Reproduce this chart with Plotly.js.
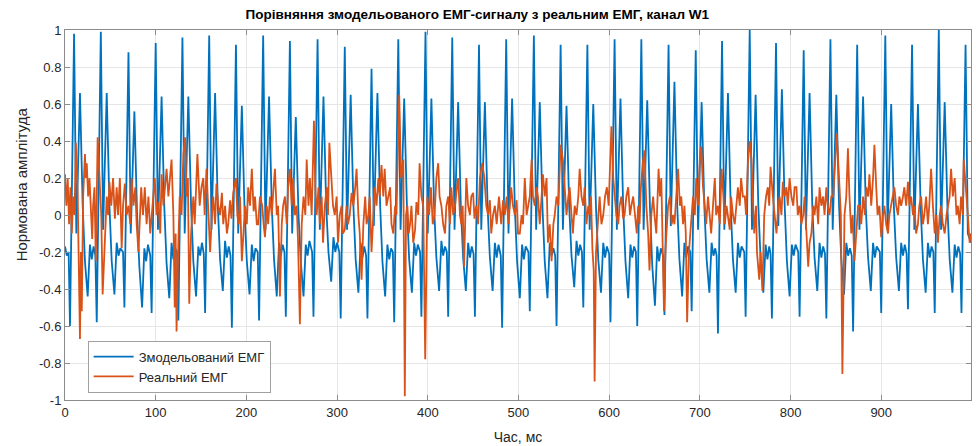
<!DOCTYPE html>
<html>
<head>
<meta charset="utf-8">
<script src="https://cdn.plot.ly/plotly-3.0.1.min.js"></script>
<style>html,body{margin:0;padding:0;background:#fff;}#chart{width:976px;height:446px;}</style>
</head>
<body>
<div id="chart"></div>
<script>
// ---- data ----
const seriesNames = ["Змодельований ЕМГ", "Реальний ЕМГ"];
const chartTitle = "Порівняння змодельованого ЕМГ-сигналу з реальним ЕМГ, канал W1";
const xLabel = "Час, мс";
const yLabel = "Нормована амплітуда";

const xTickVals = [0, 100, 200, 300, 400, 500, 600, 700, 800, 900];
const xTickText = ["0", "100", "200", "300", "400", "500", "600", "700", "800", "900"];
const yTickVals = [-1, -0.8, -0.6, -0.4, -0.2, 0, 0.2, 0.4, 0.6, 0.8, 1];
const yTickText = ["-1", "-0.8", "-0.6", "-0.4", "-0.2", "0", "0.2", "0.4", "0.6", "0.8", "1"];

// simulated EMG (blue): time in ms, normalised amplitude
const timeSim = [0, 2,
4, 5.5, 10, 12.5, 16.5, 19.5, 22, 25, 27.5, 29.5, 31.5,
33.5, 35, 39.5, 42, 46, 49, 51.5, 54.5, 57, 59, 61,
64, 65.5, 70, 72.5, 76.5, 79.5, 82, 85, 87.5, 89.5, 91.5,
94, 95.5, 100, 102.5, 106.5, 109.5, 112, 115, 117.5, 119.5, 121.5,
123.5, 125, 129.5, 132, 136, 139, 141.5, 144.5, 147, 149, 151,
153, 154.5, 159, 161.5, 165.5, 168.5, 171, 174, 176.5, 178.5, 180.5,
182.5, 184, 188.5, 191, 195, 198, 200.5, 203.5, 206, 208, 210,
212.5, 214, 218.5, 221, 225, 228, 230.5, 233.5, 236, 238, 240,
242, 243.5, 248, 250.5, 254.5, 257.5, 260, 263, 265.5, 267.5, 269.5,
272.5, 274, 278.5, 281, 285, 288, 290.5, 293.5, 296, 298, 300,
302.5, 304, 308.5, 311, 315, 318, 320.5, 323.5, 326, 328, 330,
332, 333.5, 338, 340.5, 344.5, 347.5, 350, 353, 355.5, 357.5, 359.5,
361.5, 363, 367.5, 370, 374, 377, 379.5, 382.5, 385, 387, 389,
391.5, 393, 397.5, 400, 404, 407, 409.5, 412.5, 415, 417, 419,
421, 422.5, 427, 429.5, 433.5, 436.5, 439, 442, 444.5, 446.5, 448.5,
450.5, 452, 456.5, 459, 463, 466, 468.5, 471.5, 474, 476, 478,
480.5, 482, 486.5, 489, 493, 496, 498.5, 501.5, 504, 506, 508,
511, 512.5, 517, 519.5, 523.5, 526.5, 529, 532, 534.5, 536.5, 538.5,
540.5, 542, 546.5, 549, 553, 556, 558.5, 561.5, 564, 566, 568,
570, 571.5, 576, 578.5, 582.5, 585.5, 588, 591, 593.5, 595.5, 597.5,
600, 601.5, 606, 608.5, 612.5, 615.5, 618, 621, 623.5, 625.5, 627.5,
629.5, 631, 635.5, 638, 642, 645, 647.5, 650.5, 653, 655, 657,
659.5, 661, 665.5, 668, 672, 675, 677.5, 680.5, 683, 685, 687,
689.5, 691, 695.5, 698, 702, 705, 707.5, 710.5, 713, 715, 717,
718.5, 720, 724.5, 727, 731, 734, 736.5, 739.5, 742, 744, 746,
749, 750.5, 755, 757.5, 761.5, 764.5, 767, 770, 772.5, 774.5, 776.5,
778, 779.5, 784, 786.5, 790.5, 793.5, 796, 799, 801.5, 803.5, 805.5,
808.5, 810, 814.5, 817, 821, 824, 826.5, 829.5, 832, 834, 836,
838, 839.5, 844, 846.5, 850.5, 853.5, 856, 859, 861.5, 863.5, 865.5,
867.5, 869, 873.5, 876, 880, 883, 885.5, 888.5, 891, 893, 895,
898.5, 900, 904.5, 907, 911, 914, 916.5, 919.5, 922, 924, 926,
928, 929.5, 934, 936.5, 940.5, 943.5, 946, 949, 951.5, 953.5, 955.5,
957.5, 959, 963.5, 966, 970, 973, 975.5, 978.5, 981, 983, 985,
987, 988.5, 993, 995.5, 999];
const ampSim = [-0.17, -0.22,
-0.2, -0.6, 0.98, -0.1, 0.66, 0.05, -0.25, -0.44, -0.16, -0.24, -0.17,
-0.22, -0.58, 0.99, -0.08, 0.66, 0.05, -0.25, -0.43, -0.15, -0.22, -0.18,
-0.2, -0.5, 0.88, -0.1, 0.56, 0.0, -0.28, -0.5, -0.18, -0.25, -0.16,
-0.22, -0.53, 0.93, -0.08, 0.64, 0.04, -0.26, -0.45, -0.15, -0.24, -0.18,
-0.2, -0.57, 0.96, -0.1, 0.64, 0.05, -0.25, -0.44, -0.17, -0.22, -0.15,
-0.21, -0.53, 0.97, -0.08, 0.66, 0.05, -0.24, -0.41, -0.14, -0.23, -0.17,
-0.22, -0.61, 0.92, -0.1, 0.59, 0.02, -0.25, -0.43, -0.16, -0.25, -0.18,
-0.2, -0.57, 0.97, -0.08, 0.64, 0.05, -0.24, -0.44, -0.15, -0.22, -0.16,
-0.2, -0.55, 0.94, -0.1, 0.53, 0.0, -0.25, -0.44, -0.16, -0.22, -0.14,
-0.2, -0.55, 0.95, -0.08, 0.64, 0.05, -0.2, -0.36, -0.12, -0.2, -0.15,
-0.2, -0.56, 0.91, -0.08, 0.65, 0.05, -0.24, -0.42, -0.15, -0.23, -0.17,
-0.22, -0.56, 0.79, -0.06, 0.66, 0.05, -0.25, -0.44, -0.16, -0.24, -0.18,
-0.2, -0.58, 0.95, -0.08, 0.63, 0.05, -0.24, -0.42, -0.15, -0.22, -0.16,
-0.2, -0.55, 0.99, -0.1, 0.63, 0.04, -0.23, -0.41, -0.14, -0.22, -0.17,
-0.2, -0.55, 0.96, -0.08, 0.61, 0.04, -0.23, -0.41, -0.15, -0.23, -0.17,
-0.21, -0.55, 0.92, -0.08, 0.61, 0.04, -0.23, -0.41, -0.15, -0.23, -0.16,
-0.22, -0.61, 0.95, -0.1, 0.63, 0.04, -0.25, -0.45, -0.16, -0.24, -0.17,
-0.2, -0.52, 0.97, -0.08, 0.61, 0.04, -0.25, -0.45, -0.15, -0.22, -0.18,
-0.22, -0.6, 0.92, -0.08, 0.59, 0.04, -0.22, -0.39, -0.14, -0.22, -0.16,
-0.2, -0.5, 0.92, -0.08, 0.6, 0.04, -0.24, -0.42, -0.15, -0.23, -0.17,
-0.21, -0.58, 0.95, -0.08, 0.63, 0.04, -0.25, -0.45, -0.16, -0.23, -0.17,
-0.2, -0.6, 0.95, -0.08, 0.62, 0.04, -0.27, -0.49, -0.17, -0.25, -0.18,
-0.22, -0.54, 0.92, -0.06, 0.72, 0.06, -0.24, -0.44, -0.15, -0.23, -0.17,
-0.2, -0.52, 0.89, -0.08, 0.61, 0.04, -0.24, -0.42, -0.15, -0.22, -0.18,
-0.22, -0.64, 0.94, -0.08, 0.66, 0.05, -0.24, -0.42, -0.15, -0.23, -0.17,
-0.2, -0.55, 1.0, -0.08, 0.65, 0.05, -0.24, -0.42, -0.16, -0.24, -0.17,
-0.21, -0.56, 0.93, -0.06, 0.68, 0.06, -0.25, -0.44, -0.16, -0.22, -0.16,
-0.2, -0.55, 0.89, -0.08, 0.66, 0.05, -0.23, -0.41, -0.15, -0.23, -0.17,
-0.21, -0.56, 0.95, -0.08, 0.65, 0.05, -0.24, -0.43, -0.15, -0.22, -0.18,
-0.22, -0.63, 0.92, -0.08, 0.64, 0.04, -0.23, -0.41, -0.15, -0.23, -0.17,
-0.2, -0.53, 0.97, -0.08, 0.6, 0.04, -0.23, -0.41, -0.15, -0.22, -0.16,
-0.21, -0.51, 0.92, -0.08, 0.6, 0.04, -0.24, -0.42, -0.15, -0.23, -0.17,
-0.2, -0.53, 1.0, -0.08, 0.61, 0.04, -0.24, -0.42, -0.16, -0.23, -0.17,
-0.21, -0.53, 0.92, -0.1, -0.15];

// real EMG (orange): time in ms, normalised amplitude
const timeReal = [0, 1.5, 3, 4.5, 6, 7.5, 9, 10.5, 12, 14, 16.5, 17.5, 18.5, 20, 22, 23, 24, 25.5, 27, 28.5,
30, 31, 32.5, 34, 36, 38.5, 40, 41.5, 44, 46, 47.5, 49, 51, 53, 55, 57, 58.5, 60.5, 62.5, 64,
66, 68, 70, 72, 73.5, 75.5, 77.5, 79, 81, 82.5, 84, 86, 88, 90, 92, 94, 95.5, 97.5, 99, 101,
103, 105, 106.5, 108.5, 110, 112, 114, 116, 117.5, 119.5, 121, 122, 123, 125, 126.5, 128.5, 130.5, 132.5, 134, 135.5,
137, 139, 141.5, 143, 144.5, 146, 148.5, 150.5, 152.5, 154, 156, 158, 160, 162, 163.5, 165.5, 167, 169, 171, 173,
174.5, 176.5, 178.5, 180, 182, 183.5, 185.5, 188.5, 190, 191.5, 193, 195, 197, 198.5, 200.5, 202, 204, 206, 208, 209.5,
211.5, 213, 215, 217.5, 219, 220.5, 222.5, 224, 226, 228, 230, 231.5, 233.5, 235, 237, 239, 240.5, 242.5, 244.5, 246,
248, 250, 251.5, 253.5, 255.5, 257, 259, 261, 263, 265, 266.5, 268.5, 270, 272, 274.5, 276, 277.5, 279.5, 281, 283,
284.5, 286.5, 288.5, 290, 291.5, 293.5, 295.5, 297.5, 299.5, 301, 303, 305, 306.5, 308.5, 310.5, 312, 314, 316, 318, 320,
321.5, 323.5, 325, 327, 329, 331, 332.5, 334.5, 336, 338, 340, 341.5, 343.5, 345.5, 347, 349, 351, 352.5, 354.5, 356.5,
358.5, 360, 362, 364, 365.5, 368.5, 370.5, 373, 374.7, 376, 377.5, 379, 380.5, 382, 384, 386, 387.5, 389.5, 391, 393,
395, 397.2, 399.5, 401.5, 403.5, 405.5, 407.5, 409.5, 411.5, 413, 415, 417, 419, 420.5, 422.5, 424.5, 426, 428, 430, 431.5,
433.5, 435.5, 437, 438.5, 440, 442.5, 444.5, 446.5, 448, 450, 451.5, 453.5, 455.5, 457.5, 460, 462.5, 464.5, 466.5, 468.5, 470,
472, 474, 476, 478.5, 480, 481, 483, 485, 487, 489, 490.5, 492, 494, 496, 498, 499.5, 501.5, 503.5, 505, 507,
509, 510.5, 512.5, 514.5, 516, 518, 520, 521.5, 523.5, 525.5, 527, 529, 531, 532.5, 534.5, 536.5, 538.5, 540, 542, 544,
546.5, 549, 551, 553, 555, 556.5, 558.5, 560, 562, 564, 566, 567.5, 569.5, 571.5, 573, 575, 577, 578.5, 580, 581.5,
583, 584, 585.5, 587, 589.5, 591.5, 593.5, 595.5, 597.5, 599.5, 601, 602.5, 604.5, 606, 608, 610, 611.5, 613.5, 615.5, 617,
619, 621, 623, 624.5, 626.5, 628.5, 630.5, 632, 633.5, 635, 637, 639, 641, 643, 644.5, 646.5, 648.5, 650, 652, 654.5,
656, 657.5, 659, 660.5, 662, 663.5, 665, 667, 669, 670.5, 672, 674, 676, 678, 679.5, 681.5, 683, 684.5, 686, 688,
689.5, 691, 692.5, 694.5, 696, 698, 700, 701.5, 703.5, 705.5, 707, 709, 710.5, 712.5, 714.5, 716.5, 718, 720, 722, 724,
726, 727.5, 729.5, 731, 733, 734.5, 736.5, 738.5, 740, 742, 744, 745.5, 747.5, 749.5, 751, 753, 755, 757, 758, 760,
762, 763, 765.5, 767, 769, 771, 773, 775, 776.5, 778, 780.5, 782.5, 784.5, 786.5, 788, 790, 791.5, 793.5, 795.5, 797,
799, 801, 803, 804.5, 806.5, 808, 810, 812, 814, 815.5, 817.5, 819.5, 821, 823, 825, 826.5, 828.5, 830.5, 832, 834,
836, 837.5, 839.5, 841, 843, 845, 847, 849, 851, 853.5, 855.5, 857.2, 859.5, 861.5, 863.3, 865, 867, 868.5, 870.5, 872.5,
874.5, 876.5, 878, 880, 882, 883.5, 885.5, 887, 889, 891, 892.5, 894.5, 896, 898, 900, 902, 903.5, 905.5, 907.5, 909,
911, 913, 914.5, 916.5, 918.5, 920, 922, 924, 925.5, 927.5, 929.5, 931, 933, 935, 936.5, 938.5, 940.5, 942, 944, 946,
947.5, 949.5, 951.5, 953, 955, 957, 959, 961, 962.5, 964.5, 966, 968, 970, 972, 973.5, 975.5, 977, 979, 981, 983,
984.5, 986.5, 988, 990, 991, 993.5, 995.5, 997.5, 999];
const ampReal = [0.22, 0.05, 0.2, -0.05, 0.15, -0.1, 0.1, 0.0, 0.39, 0.1, -0.67, -0.2, -0.52, 0.1, 0.33, 0.2, 0.28, 0.1, 0.2, 0.0,
-0.13, 0.05, 0.15, -0.25, 0.42, 0.15, 0.0, -0.43, -0.1, 0.1, 0.0, 0.18, 0.05, 0.2, -0.02, 0.15, 0.0, 0.2, -0.18, 0.05,
0.17, 0.0, 0.05, -0.05, 0.2, 0.05, 0.15, -0.05, -0.2, -0.05, 0.15, 0.0, 0.15, -0.05, 0.1, -0.1, 0.0, 0.12, 0.2, 0.0,
0.07, -0.1, 0.22, 0.05, 0.15, 0.25, 0.1, 0.2, 0.3, 0.0, -0.5, -0.1, -0.63, -0.15, 0.1, 0.0, 0.33, 0.42, 0.1, 0.2,
-0.48, -0.1, 0.1, -0.05, 0.1, 0.33, 0.05, 0.15, 0.2, 0.0, 0.25, 0.05, -0.2, 0.0, 0.1, -0.05, 0.17, 0.05, 0.0, 0.12,
-0.05, 0.05, -0.1, -0.05, 0.08, -0.02, 0.12, 0.2, 0.0, -0.05, 0.1, -0.25, -0.05, 0.05, -0.05, 0.15, 0.05, 0.25, 0.02, 0.1,
-0.05, -0.05, 0.1, 0.05, -0.05, -0.12, 0.05, -0.05, 0.1, 0.0, 0.15, 0.25, 0.0, 0.05, -0.44, -0.05, 0.05, 0.1, -0.05, 0.15,
0.25, 0.05, 0.2, 0.0, 0.05, -0.15, -0.59, -0.05, 0.1, 0.0, 0.3, 0.05, 0.2, 0.0, 0.51, 0.15, 0.0, 0.15, -0.05, 0.1,
-0.15, 0.05, 0.15, 0.0, 0.39, 0.22, 0.05, 0.0, 0.1, -0.15, 0.0, 0.05, -0.1, -0.08, 0.05, -0.05, 0.0, 0.12, 0.05, 0.15,
0.25, 0.0, -0.1, -0.35, -0.05, 0.1, -0.05, 0.0, 0.1, -0.2, 0.0, 0.15, 0.05, 0.2, 0.1, 0.27, 0.1, 0.25, 0.05, 0.1,
0.15, -0.05, -0.1, 0.05, 0.0, 0.65, 0.2, 0.3, -0.98, 0.0, 0.05, -0.1, -0.05, 0.05, -0.15, -0.08, 0.07, 0.0, 0.28, 0.1,
0.05, -0.78, 0.1, 0.0, 0.15, -0.05, 0.0, 0.2, 0.28, 0.1, 0.05, -0.05, -0.1, 0.05, 0.1, -0.05, 0.15, 0.0, 0.05, 0.12,
0.2, 0.0, -0.05, 0.05, -0.28, 0.2, 0.05, 0.0, 0.1, 0.12, -0.02, 0.05, -0.05, 0.2, 0.28, 0.2, 0.05, 0.0, 0.08, -0.1,
0.0, 0.05, -0.05, 0.1, 0.0, -0.05, 0.08, 0.0, 0.1, -0.05, 0.05, 0.15, 0.05, 0.0, 0.08, -0.1, -0.1, 0.0, -0.05, 0.2,
0.0, 0.05, 0.1, 0.3, 0.1, 0.05, 0.15, 0.1, -0.05, 0.1, 0.22, 0.1, 0.2, -0.15, -0.05, -0.25, -0.05, 0.0, 0.1, 0.05,
0.38, 0.3, 0.15, 0.0, 0.1, 0.15, 0.0, -0.1, 0.05, 0.0, 0.1, 0.25, 0.1, 0.05, 0.15, -0.05, 0.05, 0.0, 0.1, -0.18,
-0.3, -0.9, -0.2, -0.1, 0.1, -0.05, 0.0, 0.1, 0.15, 0.05, 0.25, 0.48, 0.2, 0.1, 0.0, -0.05, 0.05, 0.1, -0.02, 0.0,
0.1, 0.15, 0.0, 0.05, 0.1, 0.0, -0.1, 0.05, -0.05, 0.15, 0.28, 0.35, 0.05, -0.1, -0.3, 0.0, 0.1, 0.0, -0.1, 0.25,
0.1, 0.2, -0.1, -0.52, -0.2, -0.1, 0.05, 0.1, -0.05, 0.0, -0.05, 0.1, 0.25, 0.05, 0.1, -0.05, 0.05, -0.1, -0.58, -0.2,
-0.1, 0.05, 0.1, 0.0, 0.2, 0.05, 0.3, 0.37, 0.15, 0.05, -0.05, 0.1, 0.0, -0.1, 0.05, 0.2, 0.0, 0.05, -0.05, 0.25,
0.1, -0.05, 0.05, 0.0, -0.08, 0.1, 0.0, -0.05, 0.05, 0.15, 0.05, 0.2, 0.1, 0.1, 0.0, 0.28, 0.4, 0.3, 0.15, -0.1,
0.05, -0.2, -0.35, -0.2, -0.41, 0.0, 0.1, 0.15, 0.05, 0.26, 0.1, 0.0, -0.1, 0.05, 0.1, 0.0, 0.18, 0.1, 0.15, 0.05,
0.2, 0.1, 0.05, 0.15, 0.15, 0.0, 0.05, -0.05, 0.0, 0.1, -0.1, -0.28, -0.15, -0.1, 0.05, 0.0, 0.1, -0.05, 0.15, 0.05,
0.1, 0.0, 0.15, 0.05, 0.0, 0.1, 0.1, 0.25, 0.44, 0.2, 0.0, -0.86, 0.0, 0.1, 0.36, 0.1, -0.1, 0.0, -0.25, -0.1,
0.05, 0.05, -0.05, 0.1, 0.0, 0.15, 0.1, 0.22, 0.05, 0.2, 0.38, 0.15, 0.0, 0.05, -0.12, 0.0, 0.05, -0.05, -0.1, 0.0,
0.05, 0.1, 0.15, 0.05, 0.0, 0.1, 0.05, 0.1, 0.15, 0.05, 0.18, 0.05, 0.1, 0.0, 0.05, -0.1, -0.05, 0.05, 0.1, -0.05,
0.0, 0.1, -0.05, 0.05, 0.25, 0.05, -0.1, 0.0, -0.15, 0.0, 0.05, -0.05, -0.1, 0.0, 0.05, 0.1, 0.25, 0.1, 0.2, 0.0,
0.05, -0.05, 0.1, 0.0, 0.3, 0.1, 0.0, -0.15, -0.1];

// ---- chart ----
const fontFam = "'Liberation Sans', Arial, Helvetica, sans-serif";
const axisCol = "#8c8c8c";
const textCol = "#262626";

const traces = [
  {x: timeSim, y: ampSim, type: "scatter", mode: "lines", name: seriesNames[0],
   line: {color: "#0072BD", width: 1.8}},
  {x: timeReal, y: ampReal, type: "scatter", mode: "lines", name: seriesNames[1],
   line: {color: "#D95319", width: 1.8}}
];

const axisCommon = {
  showline: true, linecolor: axisCol, linewidth: 1, mirror: "ticks",
  ticks: "inside", ticklen: 5, tickcolor: axisCol, tickwidth: 1,
  showgrid: true, gridcolor: "#e6e6e6", gridwidth: 1, zeroline: false,
  tickfont: {family: fontFam, size: 13, color: textCol},
  tickmode: "array"
};

const layout = {
  width: 976, height: 446,
  margin: {l: 65, r: 5, t: 30, b: 46, pad: 0},
  paper_bgcolor: "#ffffff", plot_bgcolor: "#ffffff",
  font: {family: fontFam, color: textCol},
  title: {text: "<b>" + chartTitle + "</b>", font: {family: fontFam, size: 13.5, color: "#000"},
          xref: "container", x: 0.489, xanchor: "center", yref: "container", y: 0.968, yanchor: "middle"},
  xaxis: Object.assign({}, axisCommon, {
    range: [0, 999], tickvals: xTickVals, ticktext: xTickText,
    title: {text: xLabel, font: {family: fontFam, size: 14, color: textCol}, standoff: 13}
  }),
  yaxis: Object.assign({}, axisCommon, {
    range: [-1, 1], tickvals: yTickVals, ticktext: yTickText
  }),
  annotations: [{
    text: yLabel, textangle: -90, showarrow: false,
    xref: "paper", yref: "paper", x: -0.047, y: 0.584,
    xanchor: "center", yanchor: "middle",
    font: {family: fontFam, size: 15, color: textCol}
  }],
  showlegend: true,
  legend: {x: 0.025, y: 0.02, xanchor: "left", yanchor: "bottom",
           bgcolor: "#ffffff", bordercolor: "#a0a0a0", borderwidth: 1,
           font: {family: fontFam, size: 13, color: textCol}, itemwidth: 40,
           tracegroupgap: 0}
};

Plotly.newPlot("chart", traces, layout, {displayModeBar: false, responsive: false});
</script>
</body>
</html>
